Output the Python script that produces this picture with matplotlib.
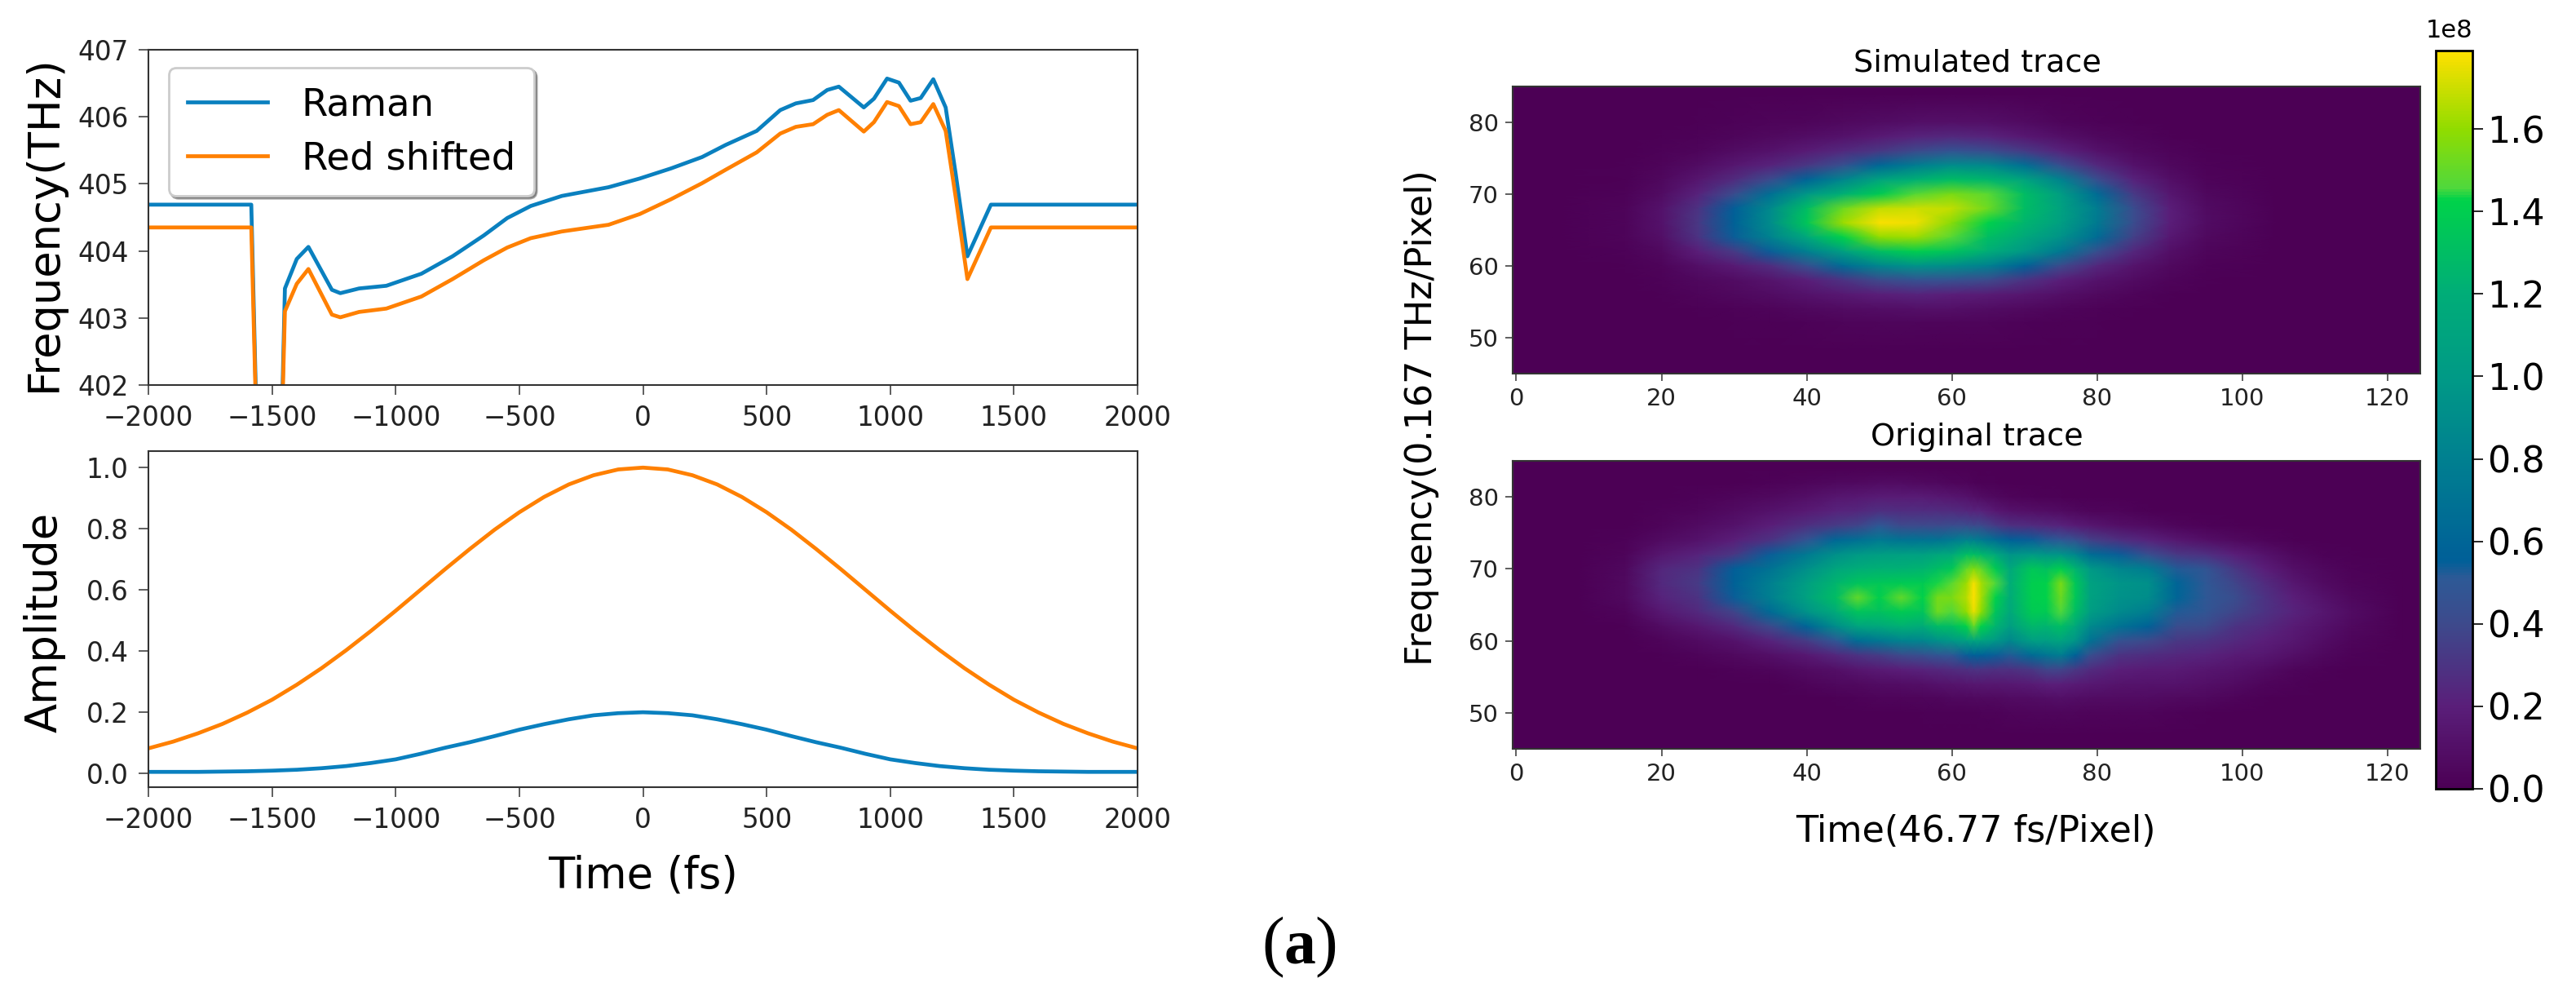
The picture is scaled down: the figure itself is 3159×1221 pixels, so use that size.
"""Raman / red shifted pulse retrieval figure: pulse traces and FROG style maps."""
import matplotlib
matplotlib.use("Agg")
import matplotlib.pyplot as plt
import numpy as np
from matplotlib.colors import LinearSegmentedColormap

W, H = 3159, 1221

# --- instantaneous frequency (fs, THz) ---
t_freq = [-2000, -1584, -1540, -1470, -1448, -1400, -1353, -1258, -1224, -1148, -1038, -896, -770, -644,
          -549, -454, -328, -139, -13, 113, 239, 334, 460, 555, 618, 688, 745, 792, 893, 934, 987,
          1035, 1082, 1123, 1174, 1224, 1265, 1312, 1407, 2000]
raman_freq = [404.69, 404.69, 398.0, 400.0, 403.44, 403.88, 404.06, 403.42, 403.37, 403.44, 403.48, 403.66,
              403.92, 404.23, 404.49, 404.67, 404.82, 404.95, 405.08, 405.23, 405.40, 405.58, 405.79,
              406.10, 406.20, 406.25, 406.40, 406.45, 406.14, 406.27, 406.57, 406.51, 406.24, 406.28,
              406.56, 406.14, 405.14, 403.92, 404.69, 404.69]
red_freq = [404.35, 404.35, 398.0, 400.0, 403.10, 403.51, 403.73, 403.05, 403.01, 403.09, 403.14, 403.32,
            403.58, 403.86, 404.05, 404.19, 404.29, 404.39, 404.55, 404.77, 405.01, 405.21, 405.47,
            405.75, 405.85, 405.89, 406.03, 406.10, 405.78, 405.92, 406.22, 406.16, 405.89, 405.92,
            406.19, 405.79, 404.79, 403.58, 404.35, 404.35]

# --- amplitudes ---
t_amp = list(range(-2000, 2001, 100))
raman_amp = [.005, .005, .005, .006, .007, .009, .012, .017, .024, .034, .046, .064, .084, .102, .122,
             .143, .161, .177, .190, .197, .200, .197, .190, .177, .161, .143, .122, .102, .084, .064,
             .046, .034, .024, .017, .012, .009, .007, .006, .005, .005, .005]
red_amp = [.082, .104, .131, .162, .199, .241, .290, .344, .403, .466, .532, .600, .668, .734, .797,
           .854, .904, .945, .975, .994, 1.0, .994, .975, .945, .904, .854, .797, .734, .668, .600,
           .532, .466, .403, .344, .290, .241, .199, .162, .131, .104, .082]

# --- simulated trace, 1e8 counts (rows top to bottom) ---
sim_time = [5, 15, 20, 25, 30, 35, 40, 45, 50, 55, 60, 65, 70, 75, 80, 85, 90, 95, 105]
sim_freq = [84, 80, 78, 76, 74, 72, 70, 68, 66, 64, 62, 60, 58, 56, 54, 52, 48]
sim_trace = [
    [0, 0, 0, 0, 0, 0, 0, 0, 0, 0, 0, 0, 0, 0, 0, 0, 0, 0, 0],
    [0, 0, 0, .01, .02, .03, .04, .06, .08, .10, .11, .10, .07, .04, .02, .01, 0, 0, 0],
    [0, 0, .01, .02, .04, .06, .09, .12, .17, .22, .25, .22, .16, .10, .05, .03, .01, 0, 0],
    [0, 0, .02, .04, .08, .12, .18, .25, .32, .40, .47, .42, .33, .22, .12, .06, .03, .01, 0],
    [0, .01, .03, .08, .15, .22, .32, .45, .62, .78, .90, .87, .68, .44, .25, .12, .05, .02, 0],
    [0, .01, .05, .14, .26, .42, .60, .85, 1.10, 1.22, 1.30, 1.25, 1.10, .82, .44, .22, .10, .03, 0],
    [0, .02, .08, .22, .42, .68, .98, 1.22, 1.38, 1.47, 1.55, 1.48, 1.30, 1.04, .65, .33, .15, .05, 0],
    [0, .03, .12, .30, .55, .88, 1.30, 1.52, 1.68, 1.70, 1.68, 1.52, 1.30, 1.08, .78, .42, .20, .07, 0],
    [0, .03, .12, .32, .58, .90, 1.35, 1.62, 1.78, 1.76, 1.58, 1.42, 1.25, 1.05, .76, .42, .20, .08, 0],
    [0, .03, .10, .30, .54, .82, 1.14, 1.42, 1.60, 1.62, 1.47, 1.30, 1.15, .95, .65, .36, .16, .06, 0],
    [0, .02, .06, .20, .33, .54, .80, 1.05, 1.30, 1.40, 1.33, 1.20, .98, .74, .44, .24, .10, .04, 0],
    [0, .01, .03, .10, .17, .27, .44, .65, .85, .95, .90, .80, .58, .40, .24, .13, .06, .02, 0],
    [0, 0, .02, .05, .08, .13, .20, .30, .40, .46, .45, .40, .30, .20, .12, .07, .03, .01, 0],
    [0, 0, .01, .03, .05, .08, .12, .16, .20, .22, .20, .18, .14, .10, .06, .03, .01, 0, 0],
    [0, 0, 0, .01, .02, .03, .05, .07, .09, .10, .10, .08, .06, .04, .02, .01, 0, 0, 0],
    [0, 0, 0, 0, .01, .01, .02, .03, .04, .04, .03, .03, .02, .01, .01, 0, 0, 0, 0],
    [0, 0, 0, 0, 0, 0, 0, 0, 0, 0, 0, 0, 0, 0, 0, 0, 0, 0, 0],
]

# --- measured trace, 1e8 counts (rows top to bottom) ---
orig_time = [8, 15, 20, 25, 30, 35, 40, 44, 47, 50, 53, 56, 58, 60, 62, 63, 64, 66, 68, 71, 73, 75, 77, 79,
             83, 87, 91, 95, 99, 103, 107, 111, 115, 122]
orig_freq = [84, 82, 80, 78, 76, 74, 72, 70, 68, 66, 64, 62, 60, 58, 56, 54, 52, 50, 47]
orig_trace = [
    [0] * 34,
    [0, 0, 0, 0, 0, .02, .04, .05, .06, .07, .07, .06, .05, .04, .03, .02, .01, .01, 0, 0, 0, 0, 0, 0, 0, 0, 0, 0, 0, 0, 0, 0, 0, 0],
    [0, 0, 0, .02, .04, .06, .10, .14, .16, .18, .18, .18, .16, .14, .12, .10, .08, .05, .03, .02, .01, .01, 0, 0, 0, 0, 0, 0, 0, 0, 0, 0, 0, 0],
    [0, 0, .02, .04, .07, .12, .17, .22, .24, .28, .27, .27, .27, .26, .24, .22, .22, .16, .12, .10, .09, .07, .05, .04, .03, .01, 0, 0, 0, 0, 0, 0, 0, 0],
    [0, 0, .03, .07, .12, .20, .28, .34, .38, .50, .40, .40, .40, .42, .42, .40, .40, .33, .28, .26, .24, .22, .18, .15, .10, .07, .04, .02, .01, 0, 0, 0, 0, 0],
    [0, .02, .07, .12, .20, .30, .48, .62, .68, .75, .70, .70, .70, .75, .82, .80, .76, .66, .56, .54, .52, .50, .45, .36, .28, .22, .15, .10, .06, .03, .01, 0, 0, 0],
    [0, .03, .15, .22, .32, .54, .75, .92, 1.0, 1.04, 1.06, 1.06, 1.12, 1.16, 1.30, 1.30, 1.26, 1.14, .95, 1.0, .96, .96, .84, .66, .54, .44, .32, .28, .20, .12, .05, .02, .01, 0],
    [0, .05, .24, .30, .55, .70, .92, 1.12, 1.20, 1.22, 1.22, 1.24, 1.30, 1.36, 1.50, 1.56, 1.50, 1.38, 1.14, 1.36, 1.32, 1.40, 1.24, 1.0, .84, .78, .52, .48, .32, .20, .10, .05, .02, 0],
    [0, .06, .25, .33, .58, .80, 1.05, 1.25, 1.34, 1.36, 1.38, 1.38, 1.44, 1.48, 1.62, 1.77, 1.64, 1.46, 1.20, 1.40, 1.42, 1.55, 1.36, 1.08, .96, .92, .60, .50, .38, .26, .15, .07, .03, 0],
    [0, .06, .22, .30, .54, .80, 1.08, 1.30, 1.50, 1.40, 1.50, 1.42, 1.54, 1.55, 1.66, 1.79, 1.64, 1.42, 1.18, 1.40, 1.42, 1.52, 1.36, 1.08, .94, .90, .60, .50, .42, .30, .20, .12, .05, 0],
    [0, .03, .16, .25, .38, .64, .95, 1.18, 1.34, 1.32, 1.38, 1.34, 1.52, 1.46, 1.60, 1.75, 1.60, 1.34, 1.14, 1.38, 1.38, 1.46, 1.30, 1.04, .88, .78, .52, .48, .38, .30, .22, .15, .08, 0],
    [0, .01, .08, .15, .25, .40, .60, .90, 1.10, 1.14, 1.22, 1.18, 1.28, 1.30, 1.42, 1.50, 1.42, 1.24, 1.04, 1.26, 1.24, 1.30, 1.14, .88, .70, .58, .42, .40, .30, .25, .18, .12, .06, 0],
    [0, 0, .03, .07, .12, .22, .34, .50, .66, .74, .82, .84, .92, .98, 1.06, 1.10, 1.08, .98, .86, 1.04, 1.04, 1.10, .96, .70, .46, .40, .32, .30, .25, .20, .15, .09, .04, 0],
    [0, 0, .01, .03, .06, .10, .16, .24, .30, .34, .40, .44, .48, .50, .54, .56, .56, .54, .52, .64, .72, .78, .58, .44, .30, .27, .24, .22, .18, .15, .10, .05, .02, 0],
    [0, 0, 0, 0, .02, .04, .07, .10, .14, .17, .20, .22, .24, .26, .28, .30, .30, .28, .28, .32, .38, .38, .32, .26, .20, .18, .17, .14, .12, .08, .04, .02, 0, 0],
    [0, 0, 0, 0, 0, 0, .03, .05, .06, .08, .09, .10, .12, .13, .14, .15, .15, .15, .16, .18, .20, .20, .18, .16, .13, .12, .12, .10, .07, .04, .02, 0, 0, 0],
    [0, 0, 0, 0, 0, 0, 0, .01, .02, .03, .03, .04, .04, .05, .05, .06, .06, .06, .07, .08, .09, .10, .09, .08, .07, .07, .06, .05, .03, .01, 0, 0, 0, 0],
    [0, 0, 0, 0, 0, 0, 0, 0, 0, 0, 0, .01, .01, .01, .01, .01, .02, .02, .03, .04, .04, .04, .04, .03, .03, .03, .02, .01, 0, 0, 0, 0, 0, 0],
    [0] * 34,
]

cbar_ticks = [0.0, 0.2, 0.4, 0.6, 0.8, 1.0, 1.2, 1.4, 1.6]
VMAX = 1.79

# colorbar as it looks in the figure (a bit more saturated than plain viridis)
cmap_stops = [(0.0, "#4c0055"), (0.2, "#5a1f7a"), (0.4, "#3d4a8c"), (0.51, "#2d5a96"), (0.55, "#005f98"),
              (0.8, "#008090"), (1.0, "#009a86"), (1.2, "#00ad78"), (1.43, "#00d24a"), (1.46, "#50d83c"),
              (1.6, "#90dc00"), (VMAX, "#ffe000")]
trace_cmap = LinearSegmentedColormap.from_list("trace", [(v / VMAX, c) for v, c in cmap_stops])

BLUE = "#0a80bf"
ORANGE = "#ff8000"
DARK = "#333333"


def px_axes(fig, left, top, right, bottom):
    return fig.add_axes([left / W, 1 - bottom / H, (right - left) / W, (bottom - top) / H])


def style_spines(ax):
    for spine in ax.spines.values():
        spine.set_linewidth(1.5)
        spine.set_color(DARK)


def draw_trace(ax, t, f, vals):
    mesh = ax.pcolormesh(t, f, np.array(vals) * 1e8, shading="gouraud", cmap=trace_cmap, vmin=0, vmax=VMAX * 1e8)
    ax.set_facecolor(trace_cmap(0.0))
    ax.set_xlim(-0.5, 124.5)
    ax.set_ylim(45, 85)
    ax.set_xticks(range(0, 121, 20))
    ax.set_yticks(range(50, 81, 10))
    ax.tick_params(labelsize=21, length=6.5, width=1.1, pad=6, color=DARK, labelcolor="#222222")
    style_spines(ax)
    return mesh


fig = plt.figure(figsize=(W / 100, H / 100), dpi=100)

# --- left column ---
ax1 = px_axes(fig, 182, 61, 1395, 472)
ax1.plot(t_freq, raman_freq, color=BLUE, lw=3.4, label="Raman")
ax1.plot(t_freq, red_freq, color=ORANGE, lw=3.4, label="Red shifted")
ax1.set_xlim(-2000, 2000)
ax1.set_ylim(402, 407)
ax1.set_yticks(range(402, 408))
ax1.set_ylabel("Frequency(THz)", fontsize=38)
ax1.yaxis.set_label_coords(-102 / 1213, 0.483)
ax1.tick_params(labelsize=23.5, length=8.5, width=1.1, pad=9, color=DARK, labelcolor="#222222")
style_spines(ax1)
leg = ax1.legend(loc="upper left", bbox_to_anchor=(25 / 1213, 1 - 22 / 411), borderaxespad=0, fontsize=33.5,
                 shadow=True, framealpha=1, labelspacing=0.45, handlelength=2.1, handletextpad=0.9, borderpad=0.5)
leg.get_frame().set_linewidth(2)

ax2 = px_axes(fig, 182, 553, 1395, 965)
ax2.plot(t_amp, raman_amp, color=BLUE, lw=3.4)
ax2.plot(t_amp, red_amp, color=ORANGE, lw=3.4)
ax2.set_xlim(-2000, 2000)
ax2.set_ylim(-0.045, 1.054)
ax2.set_yticks([0.0, 0.2, 0.4, 0.6, 0.8, 1.0])
ax2.set_ylabel("Amplitude", fontsize=38)
ax2.yaxis.set_label_coords(-101 / 1213, 0.49)
ax2.set_xlabel("Time (fs)", fontsize=38, labelpad=18)
ax2.tick_params(labelsize=23.5, length=8.5, width=1.1, pad=9, color=DARK, labelcolor="#222222")
style_spines(ax2)

# --- right column ---
ax3 = px_axes(fig, 1855, 106, 2968, 458)
mesh = draw_trace(ax3, sim_time, sim_freq, sim_trace)
ax3.set_title("Simulated trace", fontsize=27.5, pad=13.5, x=0.5117)

ax4 = px_axes(fig, 1855, 565, 2968, 918)
draw_trace(ax4, orig_time, orig_freq, orig_trace)
ax4.set_title("Original trace", fontsize=27.5, pad=13.5, x=0.5117)
ax4.set_xlabel("Time(46.77 fs/Pixel)", fontsize=32, labelpad=25, x=0.51)

fig.text(1744 / W, 1 - 512 / H, "Frequency(0.167 THz/Pixel)", rotation=90, fontsize=32, ha="center", va="center")

cax = px_axes(fig, 2987, 62, 3032, 967)
cb = fig.colorbar(mesh, cax=cax)
cb.set_ticks([v * 1e8 for v in cbar_ticks])
cb.ax.tick_params(labelsize=32, length=9.5, width=1.2)
cb.ax.yaxis.get_offset_text().set_visible(False)
cb.outline.set_linewidth(2)
fig.text(3004 / W, 1 - 37 / H, "1e8", fontsize=22, ha="center", va="center")

# panel label: bold letter between plain brackets
serif = "Liberation Serif"
fig.text(1561 / W, 1 - 1162 / H, "(", fontsize=60, family=serif, ha="center", va="center")
fig.text(1594 / W, 1 - 1162 / H, "a", fontsize=56, family=serif, weight="bold", ha="center", va="center")
fig.text(1626 / W, 1 - 1162 / H, ")", fontsize=60, family=serif, ha="center", va="center")

fig.savefig("out.png", dpi=100)
